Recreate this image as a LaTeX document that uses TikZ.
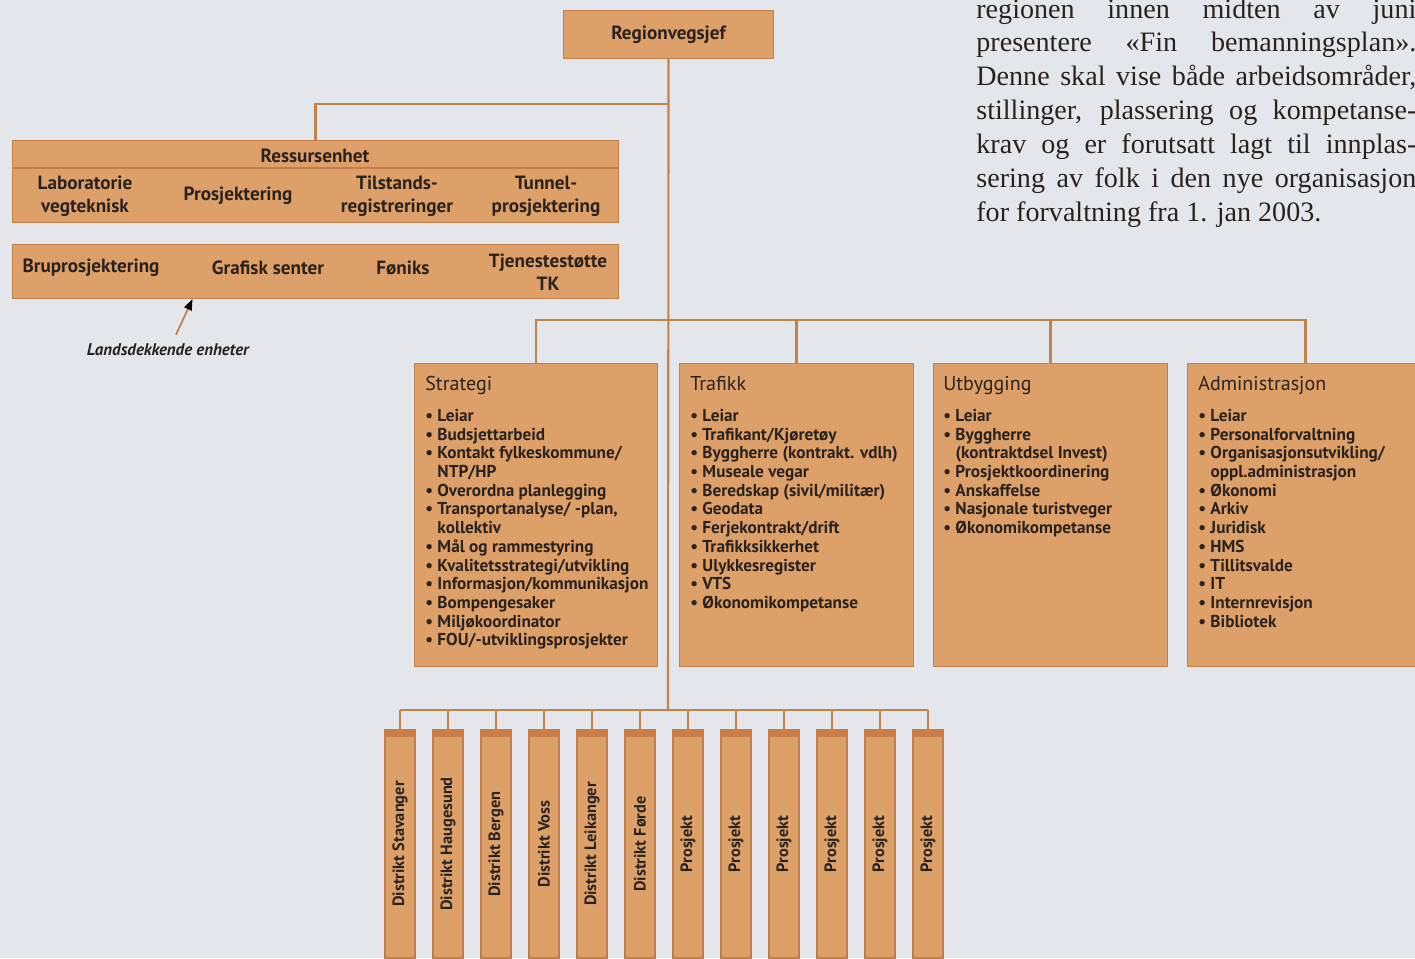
\documentclass[tikz,border=0pt]{standalone}
\usepackage{fontspec}
\setmainfont{Liberation Serif}
\newfontfamily\kartfont{PT Sans}
\usetikzlibrary{positioning,arrows.meta}

\definecolor{bakgrunn}{RGB}{227,231,235}
\definecolor{boksfarge}{RGB}{221,160,104}
\definecolor{kantfarge}{RGB}{196,128,72}
\definecolor{linjefarge}{RGB}{194,130,76}
\definecolor{toppfarge}{RGB}{200,126,70}
\definecolor{skrift}{RGB}{42,34,30}

\newcommand{\pk}{0.02cm}
\newcommand{\pkt}{\textbullet\ }
\newcommand{\inn}{\phantom{\textbullet\ }}

\tikzset{
  boks/.style={fill=boksfarge, draw=kantfarge, line width=0.6pt, inner sep=0pt, anchor=north west, text=skrift},
  linje/.style={draw=linjefarge, line width=1.2pt},
  navn/.style={font=\kartfont\bfseries\fontsize{10.9}{13}\selectfont, text=skrift, align=center, inner sep=0pt},
  tittel/.style={font=\kartfont\fontsize{11.4}{13}\selectfont, text=skrift, anchor=north west, inner sep=0pt},
  liste/.style={font=\kartfont\bfseries\fontsize{9.8}{10.63}\selectfont, text=skrift, align=left, anchor=north west, inner sep=0pt},
  soyle/.style={fill=boksfarge, draw=kantfarge, line width=0.6pt, rotate=90, minimum width=228*\pk, minimum height=30*\pk, inner sep=0pt, text=skrift, font=\kartfont\bfseries\fontsize{9.3}{10}\selectfont}
}

\begin{document}
\begin{tikzpicture}[x=0.02cm, y=-0.02cm]
\fill[bakgrunn] (0,0) rectangle (1415,958);
\useasboundingbox (0,0) rectangle (1415,958);

\node[font=\fontsize{16}{19.3}\selectfont, text=skrift, text width=440*\pk, align=justify, anchor=base west, inner sep=0pt] (avsnitt) at (976,18)
{regionen innen midten av juni\linebreak
presentere «Fin bemanningsplan».\linebreak
Denne skal vise både arbeidsområder,\linebreak
stillinger, plassering og kompetanse-\linebreak
krav og er forutsatt lagt til innplas-\linebreak
sering av folk i den nye organisasjon\linebreak
for forvaltning fra 1. jan 2003.};

\node[boks, navn, anchor=north west, minimum width=210*\pk, minimum height=48*\pk] (sjef) at (563,10) {Regionvegsjef};

\node[boks, minimum width=606*\pk, minimum height=82*\pk] (ress) at (12,140) {};
\draw[kantfarge, line width=0.6pt] (ress.west |- 0,168) -- (ress.east |- 0,168);
\node[navn] (ressnavn) at (315,156) {Ressursenhet};
\node[navn] (lab) at (85,196) {Laboratorie\\vegteknisk};
\node[navn] (prosj) at (238,196) {Prosjektering};
\node[navn] (tilst) at (397,196) {Tilstands-\\registreringer};
\node[navn] (tunnel) at (546,196) {Tunnel-\\prosjektering};

\node[boks, minimum width=606*\pk, minimum height=54*\pk] (enheter) at (12,244) {};
\node[navn] (bru) at (91,268) {Bruprosjektering};
\node[navn] (grafisk) at (268,268) {Grafisk senter};
\node[navn] (foniks) at (403,268) {Føniks};
\node[navn] (tjeneste) at (548,272) {Tjenestestøtte\\TK};

\node[font=\kartfont\bfseries\itshape\fontsize{9.6}{11}\selectfont, text=skrift, inner sep=0pt] (lande) at (168,350) {Landsdekkende enheter};
\draw[linjefarge, line width=1pt, -{Triangle[length=2.2mm,width=1.6mm,color=black]}] ([xshift=8*\pk, yshift=9*\pk]lande.north) -- ([xshift=-123*\pk]enheter.south);

\node[boks, minimum width=243*\pk, minimum height=303*\pk] (strategi) at (414,363) {};
\node[boks, minimum width=234*\pk, minimum height=303*\pk] (trafikk) at (679,363) {};
\node[boks, minimum width=234*\pk, minimum height=303*\pk] (utbygging) at (933,363) {};
\node[boks, minimum width=236*\pk, minimum height=303*\pk] (admin) at (1187,363) {};

\node[tittel] (strategi-t) at ([xshift=11*\pk, yshift=-13*\pk]strategi.north west) {Strategi};
\node[tittel] (trafikk-t) at ([xshift=11*\pk, yshift=-13*\pk]trafikk.north west) {Trafikk};
\node[tittel] (utbygging-t) at ([xshift=10*\pk, yshift=-13*\pk]utbygging.north west) {Utbygging};
\node[tittel] (admin-t) at ([xshift=11*\pk, yshift=-13*\pk]admin.north west) {Administrasjon};

\node[liste] (strategi-l) at ([xshift=11*\pk, yshift=-46*\pk]strategi.north west)
{\pkt Leiar\\
\pkt Budsjettarbeid\\
\pkt Kontakt fylkeskommune/\\
\inn NTP/HP\\
\pkt Overordna planlegging\\
\pkt Transportanalyse/ -plan,\\
\inn kollektiv\\
\pkt Mål og rammestyring\\
\pkt Kvalitetsstrategi/utvikling\\
\pkt Informasjon/kommunikasjon\\
\pkt Bompengesaker\\
\pkt Miljøkoordinator\\
\pkt FOU/-utviklingsprosjekter};

\node[liste] (trafikk-l) at ([xshift=11*\pk, yshift=-46*\pk]trafikk.north west)
{\pkt Leiar\\
\pkt Trafikant/Kjøretøy\\
\pkt Byggherre (kontrakt. vdlh)\\
\pkt Museale vegar\\
\pkt Beredskap (sivil/militær)\\
\pkt Geodata\\
\pkt Ferjekontrakt/drift\\
\pkt Trafikksikkerhet\\
\pkt Ulykkesregister\\
\pkt VTS\\
\pkt Økonomikompetanse};

\node[liste] (utbygging-l) at ([xshift=10*\pk, yshift=-46*\pk]utbygging.north west)
{\pkt Leiar\\
\pkt Byggherre\\
\inn (kontraktdsel Invest)\\
\pkt Prosjektkoordinering\\
\pkt Anskaffelse\\
\pkt Nasjonale turistveger\\
\pkt Økonomikompetanse};

\node[liste] (admin-l) at ([xshift=11*\pk, yshift=-46*\pk]admin.north west)
{\pkt Leiar\\
\pkt Personalforvaltning\\
\pkt Organisasjonsutvikling/\\
\inn oppl.administrasjon\\
\pkt Økonomi\\
\pkt Arkiv\\
\pkt Juridisk\\
\pkt HMS\\
\pkt Tillitsvalde\\
\pkt IT\\
\pkt Internrevisjon\\
\pkt Bibliotek};

\foreach \i/\tekst in {1/Distrikt Stavanger,2/Distrikt Haugesund,3/Distrikt Bergen,4/Distrikt Voss,5/Distrikt Leikanger,6/Distrikt Førde,7/Prosjekt,8/Prosjekt,9/Prosjekt,10/Prosjekt,11/Prosjekt,12/Prosjekt}
{
    \node[soyle] (d\i) at (352+48*\i, 844) {\tekst};
    \fill[toppfarge] (d\i.north east) rectangle ([yshift=-8*\pk]d\i.south east);
}

\coordinate (b1) at (668,104);
\coordinate (b2) at (668,320);
\coordinate (b3) at (668,710);
\draw[linje] (sjef.south) -- (b3);
\draw[linje] (b1) -| (ress.north);
\draw[linje] (strategi.north) |- (b2) -| (admin.north);
\draw[linje] (trafikk.north) -- (trafikk.north |- b2);
\draw[linje] (utbygging.north) -- (utbygging.north |- b2);
\draw[linje] (d1.east |- b3) -- (d12.east |- b3);
\foreach \i in {1,...,12}
{
    \draw[linje] (d\i.east) -- (d\i.east |- b3);
}
\end{tikzpicture}
\end{document}
